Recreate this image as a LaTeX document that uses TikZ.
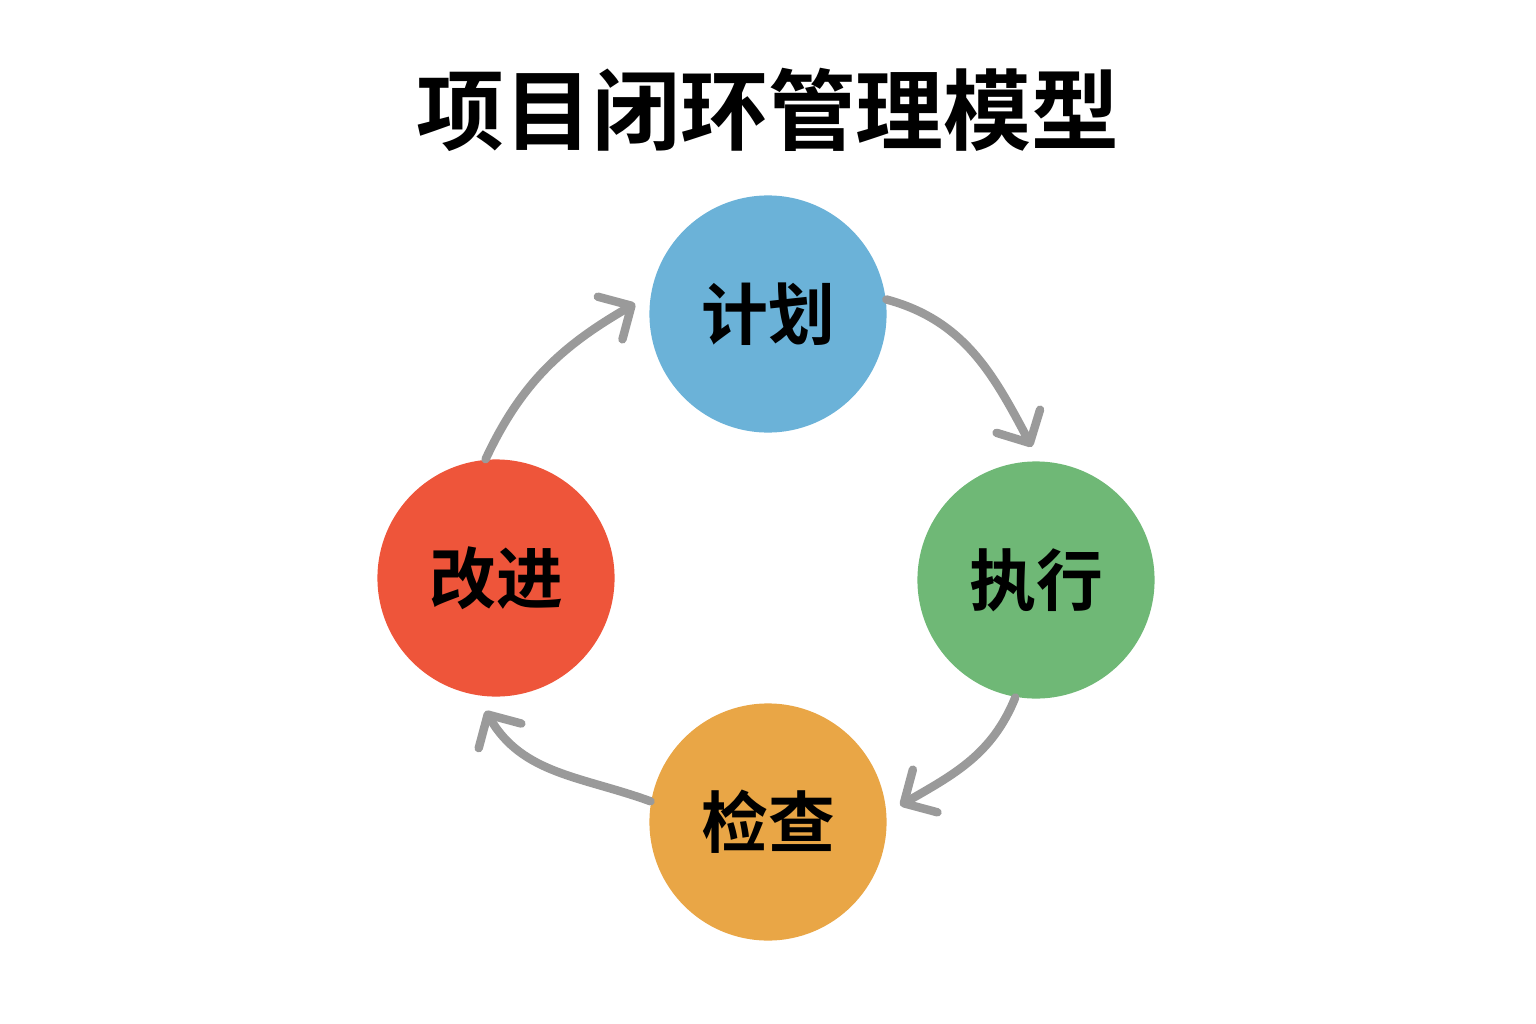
\documentclass[tikz,border=0pt]{standalone}
\usepackage{fontspec}
\setmainfont{Noto Sans CJK SC}[BoldFont={* Bold}]
\usetikzlibrary{arrows.meta, positioning}
\usepackage{xcolor}
\definecolor{planblue}{HTML}{6BB2D8}
\definecolor{execgreen}{HTML}{6FB876}
\definecolor{checkorange}{HTML}{E9A646}
\definecolor{fixred}{HTML}{EE553A}
\definecolor{loopgray}{HTML}{9A9A9A}
\begin{document}
\begin{tikzpicture}[x=0.01cm,y=-0.01cm]
    \tikzstyle{stage}=[circle,minimum size=2.37cm,inner sep=0pt,font=\fontsize{19}{19}\bfseries\selectfont]
    \tikzstyle{loop}=[draw=loopgray,line width=2.4pt,line cap=round,-{Straight Barb[length=7pt,width=14pt,line width=2.4pt,round]}]

    \useasboundingbox (0,0) rectangle (1536,1024);

	\node[font=\fontsize{25}{25}\bfseries\selectfont] (title) at (768,110) {项目闭环管理模型};

	\node[stage, fill=planblue] (plan) at (768,314) {计划};
	\node[stage, fill=execgreen] (exec) at (1036,580) {执行};
	\node[stage, fill=checkorange] (check) at (768,822) {检查};
	\node[stage, fill=fixred] (fix) at (496,578) {改进};

	\draw[loop] (plan.7) to[out=-15,in=118] ([yshift=4pt]exec.92);
	\draw[loop] (exec.-100) to[out=-112,in=30] ([xshift=4pt]check.8);
	\draw[loop] (check.170) to[out=160,in=-60] ([yshift=-4pt]fix.-95);
	\draw[loop] (fix.95) to[out=65,in=-150] ([xshift=-4pt]plan.175);
\end{tikzpicture}
\end{document}
